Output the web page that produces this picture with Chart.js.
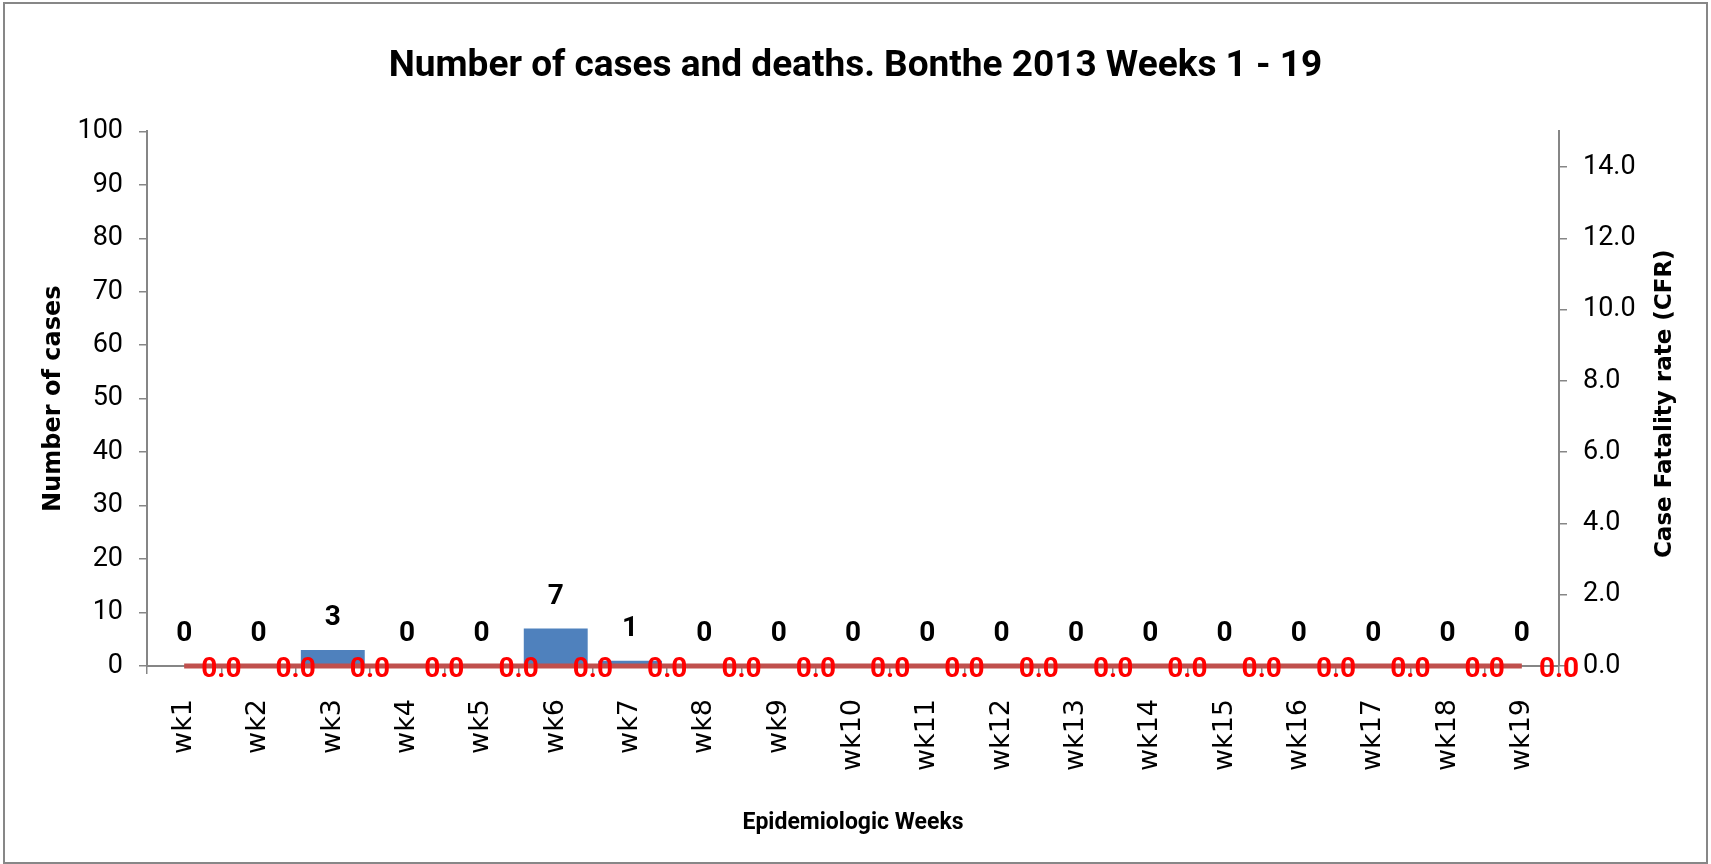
<!DOCTYPE html>
<html>
<head>
<meta charset="utf-8">
<title>Number of cases and deaths. Bonthe 2013 Weeks 1 - 19</title>
<script src="https://cdn.jsdelivr.net/npm/chart.js@4.4.1/dist/chart.umd.min.js"></script>
<style>
    html, body { margin: 0; padding: 0; background: #fff; }
    canvas { display: block; }
</style>
</head>
<body>
<canvas id="casesChart" width="1711" height="864"></canvas>
<script>
// ── Data ──────────────────────────────────────────────────────────────────
const weeks = ['wk1', 'wk2', 'wk3', 'wk4', 'wk5', 'wk6', 'wk7', 'wk8', 'wk9', 'wk10',
               'wk11', 'wk12', 'wk13', 'wk14', 'wk15', 'wk16', 'wk17', 'wk18', 'wk19'];
const cases = [0, 0, 3, 0, 0, 7, 1, 0, 0, 0, 0, 0, 0, 0, 0, 0, 0, 0, 0];
const cfr   = [0, 0, 0, 0, 0, 0, 0, 0, 0, 0, 0, 0, 0, 0, 0, 0, 0, 0, 0];
const casesAxis = { min: 0, max: 100, step: 10 };
const cfrAxis   = { min: 0, max: 15, step: 2 };

// ── Fonts / colours ───────────────────────────────────────────────────────
const narrow = '"Liberation Sans Narrow", "Arial Narrow", Roboto, sans-serif';
const wide   = '"DejaVu Sans", Verdana, sans-serif';
const axisGrey = '#868686';

// frame round the whole chart
const frame = {
    id: 'frame',
    beforeDraw(chart) {
        const ctx = chart.ctx;
        ctx.save();
        ctx.fillStyle = '#fff';
        ctx.fillRect(0, 0, chart.width, chart.height);
        ctx.strokeStyle = '#878787';
        ctx.lineWidth = 2;
        ctx.strokeRect(4, 3, chart.width - 8, chart.height - 4);
        ctx.restore();
    }
};

// value labels: cases above bars, CFR in red half a week to the right
const valueLabels = {
    id: 'valueLabels',
    afterDatasetsDraw(chart) {
        const ctx = chart.ctx;
        const xs = chart.scales.x;
        const half = (xs.getPixelForValue(1) - xs.getPixelForValue(0)) / 2;
        ctx.save();
        ctx.textAlign = 'center';
        ctx.textBaseline = 'middle';
        ctx.font = 'bold 28px ' + narrow;
        ctx.fillStyle = '#000';
        chart.getDatasetMeta(1).data.forEach((bar, i) => {
            ctx.fillText(String(cases[i]), bar.x, bar.y - 32);
        });
        ctx.fillStyle = '#ff0000';
        chart.getDatasetMeta(0).data.forEach((pt, i) => {
            ctx.fillText(cfr[i].toFixed(1), pt.x + half, pt.y + 4);
        });
        ctx.restore();
    }
};

// right axis title reads bottom-to-top like the left one
const rightTitle = {
    id: 'rightTitle',
    afterDraw(chart) {
        const { ctx, chartArea } = chart;
        const s = chart.scales.y1;
        ctx.save();
        ctx.translate(s.right - 46, (chartArea.top + chartArea.bottom) / 2 + 5);
        ctx.rotate(-Math.PI / 2);
        ctx.textAlign = 'center';
        ctx.textBaseline = 'middle';
        ctx.font = 'bold 23px ' + wide;
        ctx.fillStyle = '#000';
        ctx.fillText('Case Fatality rate (CFR)', 0, 0);
        ctx.restore();
    }
};

const ctx = document.getElementById('casesChart').getContext('2d');

const casesChart = new Chart(ctx, {
    data: {
        labels: weeks,
        datasets: [
            {
                type: 'line',
                label: 'CFR',
                data: cfr,
                yAxisID: 'y1',
                borderColor: '#C0504D',
                borderWidth: 5,
                pointRadius: 0,
                tension: 0,
                clip: false,
                order: 0
            },
            {
                type: 'bar',
                label: 'Cases',
                data: cases,
                yAxisID: 'y',
                backgroundColor: '#4F81BD',
                borderWidth: 0,
                categoryPercentage: 1,
                barPercentage: 0.86,
                order: 1
            }
        ]
    },
    options: {
        responsive: false,
        animation: false,
        layout: { padding: 0 },
        plugins: {
            legend: { display: false },
            tooltip: { enabled: false },
            title: {
                display: true,
                text: 'Number of cases and deaths. Bonthe 2013 Weeks 1 - 19',
                color: '#000',
                font: { family: narrow, size: 37, weight: 'bold' },
                padding: { top: 45, bottom: 42 }
            }
        },
        scales: {
            x: {
                offset: true,
                grid: { offset: true, drawOnChartArea: false, tickLength: 8, color: axisGrey, lineWidth: 1.5 },
                border: { color: axisGrey, width: 2 },
                ticks: {
                    autoSkip: false, minRotation: 90, maxRotation: 90, padding: 25,
                    color: '#000', font: { family: wide, size: 27 }
                },
                title: {
                    display: true, text: 'Epidemiologic Weeks', color: '#000',
                    font: { family: narrow, size: 23, weight: 'bold' },
                    padding: { top: 0, bottom: 27 }
                },
                afterFit(scale) { scale.height = 198; }
            },
            y: {
                position: 'left',
                min: casesAxis.min, max: casesAxis.max,
                grid: { drawOnChartArea: false, tickLength: 8, color: axisGrey, lineWidth: 1.5 },
                border: { color: axisGrey, width: 2 },
                ticks: {
                    stepSize: casesAxis.step, padding: 16, color: '#000',
                    font: { family: narrow, size: 27 }
                },
                title: {
                    display: true, text: 'Number of cases', color: '#000',
                    font: { family: wide, size: 24, weight: 'bold' },
                    padding: { top: 39, bottom: 0 }
                },
                afterFit(scale) { scale.width = 147; }
            },
            y1: {
                position: 'right',
                min: cfrAxis.min, max: cfrAxis.max,
                grid: { drawOnChartArea: false, tickLength: 8, color: axisGrey, lineWidth: 1.5 },
                border: { color: axisGrey, width: 2 },
                ticks: {
                    stepSize: cfrAxis.step, includeBounds: false, padding: 16, color: '#000',
                    font: { family: narrow, size: 27 },
                    callback: (v) => v.toFixed(1)
                },
                afterFit(scale) { scale.width = 152; }
            }
        }
    },
    plugins: [frame, valueLabels, rightTitle]
});
</script>
</body>
</html>
